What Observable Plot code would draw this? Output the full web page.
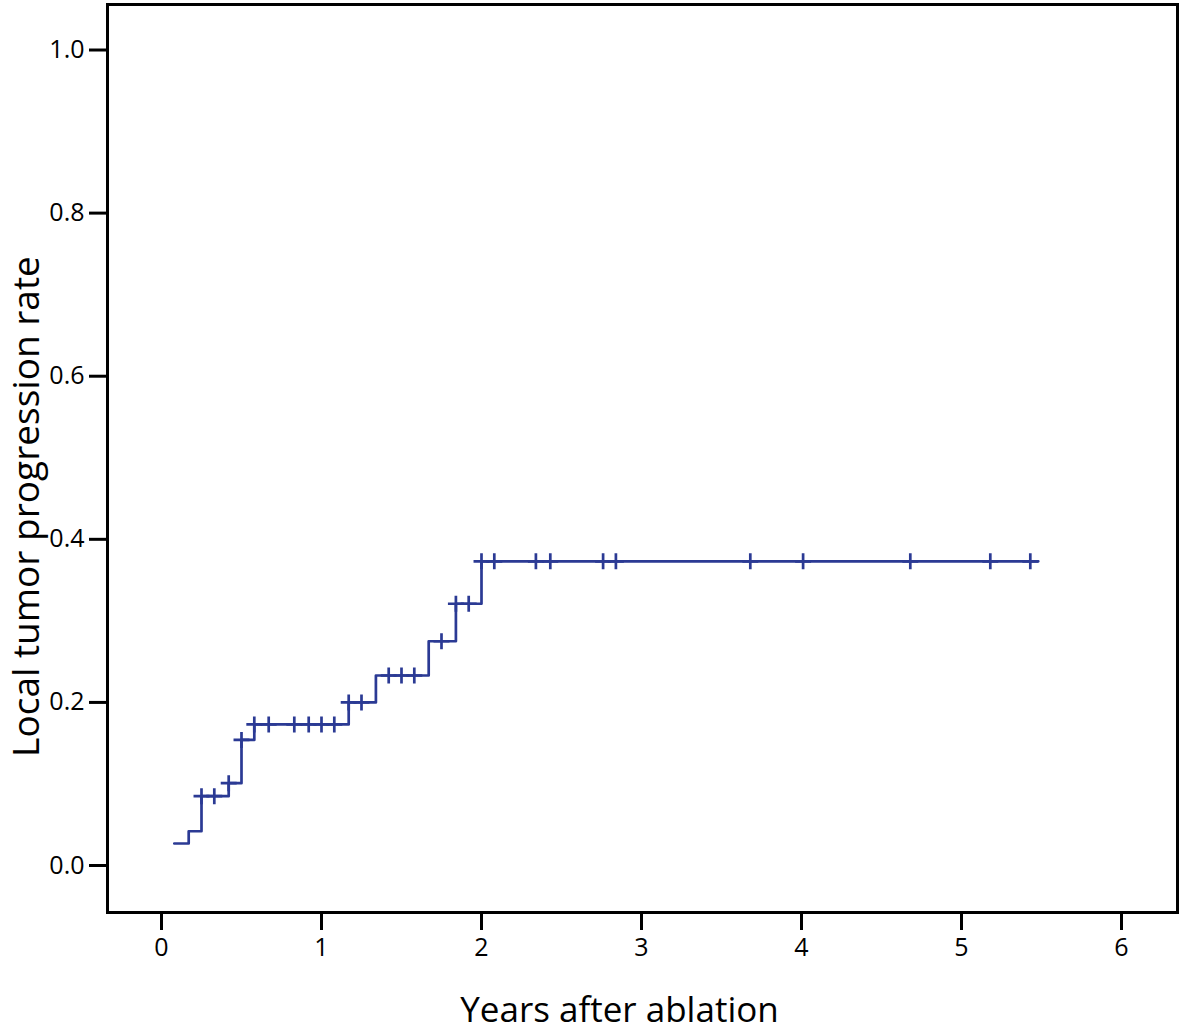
<!DOCTYPE html>
<html>
<head>
<meta charset="utf-8">
<script src="https://cdn.jsdelivr.net/npm/d3@7"></script>
<script src="https://cdn.jsdelivr.net/npm/@observablehq/plot@0.6"></script>
<style>
  html, body { margin: 0; padding: 0; background: #fff; }
  #chart svg { display: block; overflow: visible; }
</style>
</head>
<body>
<div id="chart"></div>
<script>
// Step curve: event times (years) and cumulative local tumor progression rate after each step
const stepTimes  = [0.08, 0.17, 0.25, 0.42, 0.50, 0.58, 1.17, 1.34, 1.67, 1.84, 2.00, 5.48];
const stepLevels = [0.027, 0.042, 0.085, 0.101, 0.154, 0.173, 0.200, 0.233, 0.275, 0.321, 0.373, 0.373];

// Censored observations (years)
const censorTimes = [0.25, 0.33, 0.42, 0.50, 0.58, 0.67, 0.83, 0.92, 1.00, 1.08,
                     1.17, 1.25, 1.42, 1.50, 1.58, 1.75, 1.84, 1.92, 2.00, 2.08,
                     2.34, 2.43, 2.76, 2.84, 3.68, 4.01, 4.68, 5.18, 5.43];

const xTicks = [0, 1, 2, 3, 4, 5, 6];
const yTicks = [0.0, 0.2, 0.4, 0.6, 0.8, 1.0];

const xLabel = "Years after ablation";
const yLabel = "Local tumor progression rate";

const lineColor = "#2b3a94";

const steps = stepTimes.map((t, i) => ({t, v: stepLevels[i]}));
function levelAt(t) {
  let v = stepLevels[0];
  for (let i = 0; i < stepTimes.length; i++) if (stepTimes[i] <= t + 1e-9) v = stepLevels[i];
  return v;
}
const censors = censorTimes.map(t => ({t, v: levelAt(t)}));

const chart = Plot.plot({
  width: 1181,
  height: 1031,
  marginLeft: 107,
  marginRight: 4,
  marginTop: 4,
  marginBottom: 119,
  style: {fontFamily: "'Open Sans', sans-serif", background: "#fff", color: "#000"},
  x: {domain: [-0.3375, 6.35]},
  y: {domain: [-0.0576, 1.0558]},
  marks: [
    Plot.frame({stroke: "#000", strokeWidth: 3}),
    Plot.axisX({ticks: xTicks, tickSize: 18, tickPadding: 8, fontSize: 25, strokeWidth: 3, label: null, tickFormat: d3.format("d")}),
    Plot.axisY({ticks: yTicks, tickSize: 18, tickPadding: 5, fontSize: 25, strokeWidth: 3, label: null, tickFormat: d3.format(".1f")}),
    Plot.line(steps, {x: "t", y: "v", curve: "step-after", stroke: lineColor, strokeWidth: 2.7}),
    Plot.dot(censors, {x: "t", y: "v", symbol: "plus", r: 5.2, stroke: lineColor, strokeWidth: 2.7}),
    Plot.text([yLabel], {text: d => d, frameAnchor: "left", textAnchor: "middle", lineAnchor: "middle", dx: -80, dy: 48, rotate: -90, fontSize: 37}),
    Plot.text([xLabel], {text: d => d, frameAnchor: "bottom", textAnchor: "middle", lineAnchor: "middle", dx: -23, dy: 98, fontSize: 35})
  ]
});
document.getElementById("chart").appendChild(chart);
</script>
</body>
</html>
